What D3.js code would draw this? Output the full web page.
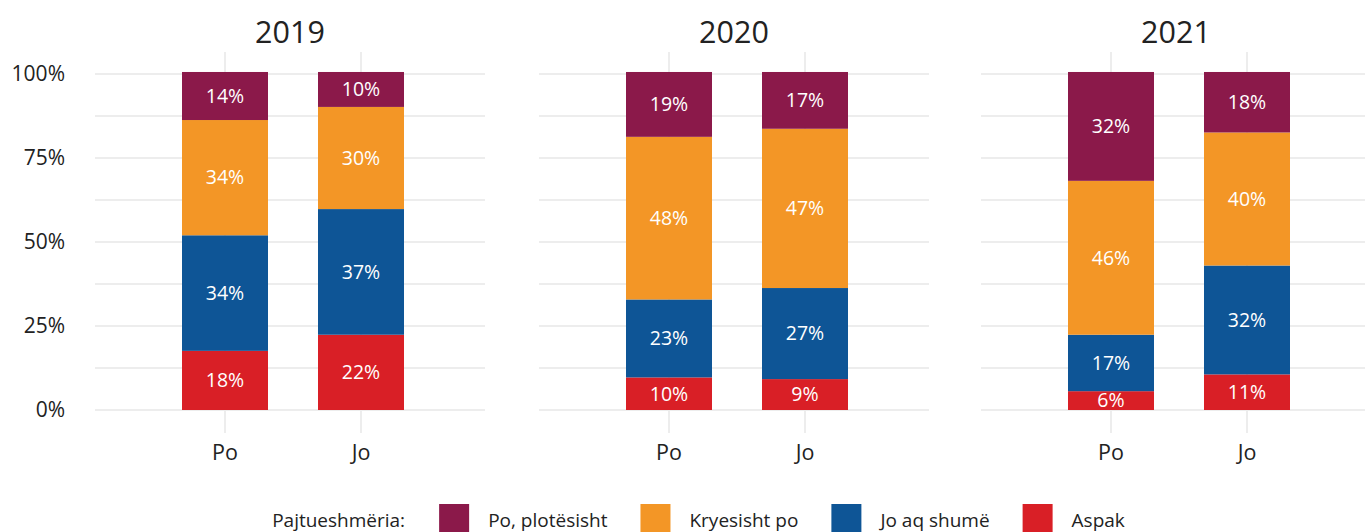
<!DOCTYPE html>
<html>
<head>
<meta charset="utf-8">
<script src="https://cdn.jsdelivr.net/npm/d3@7"></script>
<style>
  html, body { margin: 0; padding: 0; background: #fff; }
  svg { display: block; font-family: "Open Sans", "Noto Sans", sans-serif; }
</style>
</head>
<body>
<svg id="chart" width="1365" height="532"></svg>
<script>
// ---- data ----
const years = ["2019", "2020", "2021"];
const answers = ["Po", "Jo"];
const categories = ["Po, plotësisht", "Kryesisht po", "Jo aq shumë", "Aspak"];
const categoryColors = ["#8b194a", "#f39626", "#0e5596", "#d91f26"];
const legendTitle = "Pajtueshmëria:";
// order of values: 2019 Po, 2019 Jo, 2020 Po, 2020 Jo, 2021 Po, 2021 Jo
const aspak        = [17.6, 22.4,  9.7,  9.2,  5.6, 10.6];
const joAqShume    = [34.4, 37.4, 23.2, 27.1, 16.8, 32.4];
const kryesishtPo  = [34.3, 30.4, 48.4, 47.4, 45.8, 39.6];
const poPlotesisht = [14.3, 10.4, 19.3, 16.9, 32.4, 18.0];
const yTicks = [0, 25, 50, 75, 100];
const yMinor = [12.5, 37.5, 62.5, 87.5];
const yTickLabels = ["0%", "25%", "50%", "75%", "100%"];

// ---- build rows ----
const seriesByCat = {
  "Po, plotësisht": poPlotesisht,
  "Kryesisht po": kryesishtPo,
  "Jo aq shumë": joAqShume,
  "Aspak": aspak
};
const rows = [];
years.forEach((yr, i) => answers.forEach((a, j) => {
  const idx = i * answers.length + j;
  const r = { year: yr, answer: a };
  categories.forEach(c => r[c] = seriesByCat[c][idx]);
  rows.push(r);
}));
const stackOrder = categories.slice().reverse(); // bottom to top
const stacked = d3.stack().keys(stackOrder)(rows);
const color = d3.scaleOrdinal().domain(categories).range(categoryColors);

// ---- layout ----
const svg = d3.select("#chart");
const W = 1365;
const panelW = 390;
const panelTop = 52, panelBottom = 433;
const px = d3.scaleOrdinal().domain(years).range([95, 539, 981]);
const x = d3.scalePoint().domain(answers).range([130, 266]);
const barW = 86;
const y = d3.scaleLinear().domain([0, 100]).range([410, 74]);
const gridColor = "#ededed";
const textColor = "#222222";

years.forEach(yr => {
  const g = svg.append("g").attr("transform", `translate(${px(yr)},0)`);
  // horizontal grid
  g.selectAll("line.hg").data(yTicks.concat(yMinor)).join("line")
    .attr("x1", 0).attr("x2", panelW)
    .attr("y1", d => y(d)).attr("y2", d => y(d))
    .attr("stroke", gridColor).attr("stroke-width", 2);
  // vertical grid
  g.selectAll("line.vg").data(answers).join("line")
    .attr("x1", d => x(d)).attr("x2", d => x(d))
    .attr("y1", panelTop).attr("y2", panelBottom)
    .attr("stroke", gridColor).attr("stroke-width", 2);
  // title
  g.append("text").attr("x", panelW / 2).attr("y", 43)
    .attr("text-anchor", "middle").attr("font-size", 30.5)
    .attr("fill", textColor).text(yr);
  // bars
  stacked.forEach(layer => {
    const pts = layer.filter(p => p.data.year === yr);
    g.selectAll(null).data(pts).join("rect")
      .attr("x", p => x(p.data.answer) - barW / 2)
      .attr("width", barW)
      .attr("y", p => y(p[1]))
      .attr("height", p => y(p[0]) - y(p[1]))
      .attr("fill", color(layer.key));
    g.selectAll(null).data(pts).join("text")
      .attr("x", p => x(p.data.answer))
      .attr("y", p => (y(p[0]) + y(p[1])) / 2)
      .attr("dy", "0.35em")
      .attr("text-anchor", "middle")
      .attr("font-size", 19.5)
      .attr("fill", "#ffffff")
      .text(p => Math.round(p[1] - p[0]) + "%");
  });
  // x axis labels
  g.selectAll(null).data(answers).join("text")
    .attr("x", d => x(d)).attr("y", 460)
    .attr("text-anchor", "middle").attr("font-size", 21.5)
    .attr("fill", textColor).text(d => d);
});

// y axis labels
svg.selectAll("text.ytick").data(yTicks).join("text")
  .attr("class", "ytick")
  .attr("x", 65).attr("y", d => y(d)).attr("dy", "0.35em")
  .attr("text-anchor", "end").attr("font-size", 21)
  .attr("fill", textColor).text((d, i) => yTickLabels[i]);

// ---- legend ----
const lg = svg.append("g");
const legendFont = 19;
const lt = lg.append("text").attr("x", 0).attr("y", 520).attr("dy", "0.35em")
  .attr("font-size", legendFont).attr("fill", textColor).text(legendTitle);
let cx = lt.node().getComputedTextLength() + 34;
categories.forEach(c => {
  lg.append("rect").attr("x", cx).attr("y", 504).attr("width", 30).attr("height", 30)
    .attr("fill", color(c));
  const t = lg.append("text").attr("x", cx + 49).attr("y", 520).attr("dy", "0.35em")
    .attr("font-size", legendFont).attr("fill", textColor).text(c);
  cx += 49 + t.node().getComputedTextLength() + 33;
});
const totalW = cx - 33;
lg.attr("transform", `translate(${698.5 - totalW / 2},0)`);
</script>
</body>
</html>
